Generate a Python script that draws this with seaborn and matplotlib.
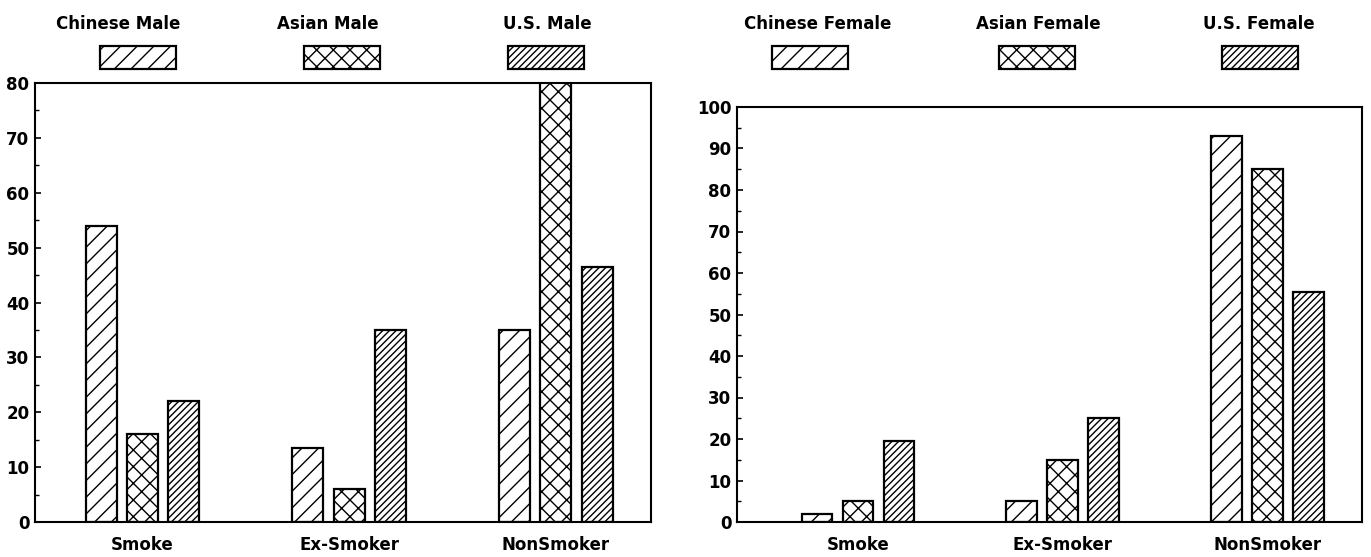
import numpy as np
import pandas as pd
import matplotlib
matplotlib.use("Agg")
import matplotlib.pyplot as plt
from matplotlib.patches import Rectangle
from matplotlib.ticker import MultipleLocator
import seaborn as sns

# Données
categories = ["Smoke", "Ex-Smoker", "NonSmoker"]
male_groups = ["Chinese Male", "Asian Male", "U.S. Male"]
female_groups = ["Chinese Female", "Asian Female", "U.S. Female"]

chinese_male = [54, 13.5, 35]
asian_male = [16, 6, 82]
us_male = [22, 35, 46.5]

chinese_female = [2, 5, 93]
asian_female = [5, 15, 85]
us_female = [19.5, 25, 55.5]

hatches = ["//", "xx", "/////"]

sns.set_theme(style="white")
plt.rcParams["font.family"] = ["DejaVu Sans"]
plt.rcParams["hatch.linewidth"] = 1.0
plt.rcParams["text.color"] = "black"
plt.rcParams["xtick.color"] = "black"
plt.rcParams["ytick.color"] = "black"

def long_table(groups, series):
    rows = []
    for g, vals in zip(groups, series):
        for c, v in zip(categories, vals):
            rows.append({"categorie": c, "groupe": g, "valeur": v})
    return pd.DataFrame(rows)

df_male = long_table(male_groups, [chinese_male, asian_male, us_male])
df_female = long_table(female_groups, [chinese_female, asian_female, us_female])

fig = plt.figure(figsize=(13.71, 5.57), dpi=100)
W, H = 1371, 557

ax_m = fig.add_axes([35 / W, 35 / H, 616 / W, 439 / H])
ax_f = fig.add_axes([737 / W, 35 / H, 625 / W, 415 / H])

def draw(ax, df, groups, ymax, xlim):
    sns.barplot(data=df, x="categorie", y="valeur", hue="groupe", order=categories,
                hue_order=groups, palette=["white"] * 3, edgecolor="black",
                linewidth=1.6, width=0.6, gap=0.25, legend=False, ax=ax)
    for cont, h in zip(ax.containers, hatches):
        for bar in cont:
            bar.set_hatch(h)
    ax.set_ylim(0, ymax)
    ax.set_xlim(*xlim)
    ax.yaxis.set_major_locator(MultipleLocator(10))
    ax.yaxis.set_minor_locator(MultipleLocator(5))
    ax.tick_params(axis="y", which="major", direction="in", length=4, width=1.2,
                   labelsize=12, pad=4, left=True, colors="black")
    ax.tick_params(axis="y", which="minor", direction="in", length=3, width=1.0, left=True)
    ax.tick_params(axis="x", length=0, labelsize=12, pad=10, colors="black")
    for lab in ax.get_yticklabels() + ax.get_xticklabels():
        lab.set_fontweight("bold")
    ax.set_xlabel("")
    ax.set_ylabel("")
    for s in ax.spines.values():
        s.set_visible(True)
        s.set_color("black")
        s.set_linewidth(1.5)

draw(ax_m, df_male, male_groups, 80, (-0.52, 2.46))
draw(ax_f, df_female, female_groups, 100, (-0.59, 2.46))

# Légendes : texte au-dessus d'un petit rectangle hachuré
legend_x = [138, 342, 546, 810, 1037, 1260]
text_x = [118, 328, 547, 818, 1038, 1259]
for xc, xt, name, h in zip(legend_x, text_x, male_groups + female_groups, hatches * 2):
    fig.text(xt / W, 1 - 24 / H, name, ha="center", va="center", fontsize=12,
             fontweight="bold", color="black")
    rect = Rectangle(((xc - 38) / W, 1 - 69 / H), 76 / W, 23 / H, transform=fig.transFigure,
                     facecolor="white", edgecolor="black", linewidth=1.6, hatch=h)
    fig.add_artist(rect)

fig.savefig("out.png", dpi=100)
